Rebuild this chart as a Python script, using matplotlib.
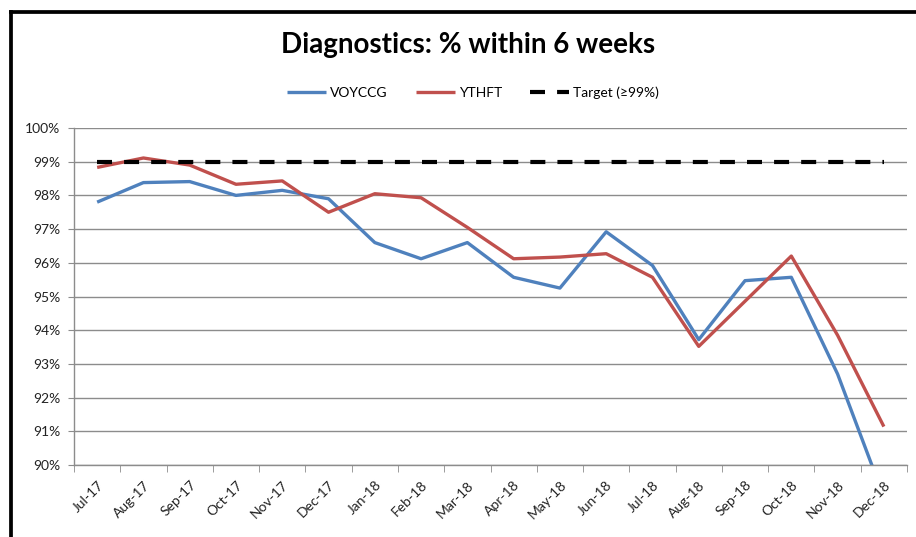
import matplotlib
matplotlib.use('Agg')
import matplotlib.pyplot as plt
from matplotlib.lines import Line2D
from matplotlib.ticker import FuncFormatter, FixedLocator
import numpy as np

plt.rcParams['font.family'] = ['Lato', 'DejaVu Sans']

months = ['Jul-17', 'Aug-17', 'Sep-17', 'Oct-17', 'Nov-17', 'Dec-17',
          'Jan-18', 'Feb-18', 'Mar-18', 'Apr-18', 'May-18', 'Jun-18',
          'Jul-18', 'Aug-18', 'Sep-18', 'Oct-18', 'Nov-18', 'Dec-18']
voyccg = [97.8, 98.38, 98.41, 98.0, 98.15, 97.9, 96.6, 96.12, 96.6, 95.57,
          95.25, 96.92, 95.92, 93.72, 95.47, 95.57, 92.7, 89.05]
ythft = [98.83, 99.11, 98.9, 98.33, 98.43, 97.5, 98.05, 97.93, 97.05, 96.12,
         96.17, 96.27, 95.57, 93.52, 94.86, 96.2, 93.85, 91.14]
target = [99.0] * len(months)

x = np.arange(len(months))

fig = plt.figure(figsize=(9.16, 5.37), dpi=100)
ax = fig.add_axes([74/916, 1-465/537, 833/916, 337/537])

ax.plot(x, np.array(voyccg)/100, color='#4F81BD', lw=2.4, label='VOYCCG', solid_capstyle='butt')
ax.plot(x, np.array(ythft)/100, color='#C0504D', lw=2.4, label='YTHFT', solid_capstyle='butt')
ax.plot(x, np.array(target)/100, color='black', lw=3, ls=(0, (3.6, 2.9)), label='Target (\u226599%)')

ax.set_xlim(-0.5, len(months)-0.5)
ax.set_ylim(0.90, 1.00)
ax.set_yticks(np.arange(0.90, 1.0001, 0.01))
ax.yaxis.set_major_formatter(FuncFormatter(lambda v, p: '{:.0f}%'.format(v*100)))
ax.grid(axis='y', color='#8c8c8c', lw=1)
ax.set_axisbelow(True)

ax.set_xticks(x)
ax.set_xticklabels(months, rotation=45, ha='right', rotation_mode='anchor', fontsize=10, color='#222222')
ax.tick_params(axis='x', which='major', length=0, pad=10)
ax.xaxis.set_minor_locator(FixedLocator(np.arange(-0.5, len(months), 1)))
ax.tick_params(axis='x', which='minor', length=5, color='#8c8c8c', direction='out')
ax.tick_params(axis='y', length=4, color='#8c8c8c', labelsize=10, labelcolor='#222222', pad=6)

for s in ['top', 'right']:
    ax.spines[s].set_visible(False)
for s in ['left', 'bottom']:
    ax.spines[s].set_color('#8c8c8c')
    ax.spines[s].set_linewidth(1)

fig.text(468/916, 1-45/537, 'Diagnostics: % within 6 weeks', ha='center', va='center',
         fontsize=20, fontweight='bold')

fig.legend(loc='center', bbox_to_anchor=(473/916, 1-93/537), ncol=3, frameon=False,
           fontsize=10, handlelength=2.8, columnspacing=2.0, handletextpad=0.3)

# chart frame (top and left edges visible)
fig.add_artist(Line2D([11/916, 1], [1-11.5/537, 1-11.5/537], color='black', lw=2.7, transform=fig.transFigure))
fig.add_artist(Line2D([11/916, 11/916], [0, 1-11.5/537], color='black', lw=2.7, transform=fig.transFigure))

fig.savefig('out.png', dpi=100)
